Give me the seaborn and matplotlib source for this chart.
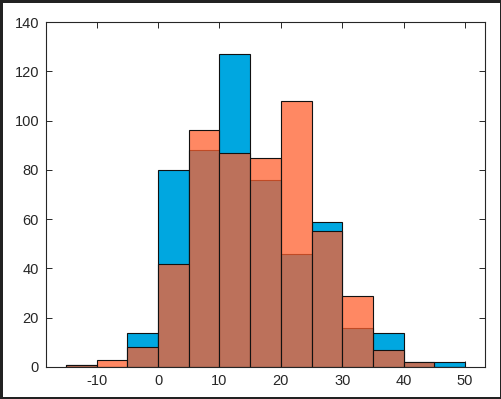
import numpy as np
import pandas as pd
import matplotlib
matplotlib.use("Agg")
import matplotlib.pyplot as plt
import seaborn as sns

# bin edges and counts per bin (width 5, from -15 to 50)
bin_edges = [-15, -10, -5, 0, 5, 10, 15, 20, 25, 30, 35, 40, 45, 50]
counts_a = [1, 0, 14, 80, 88, 127, 76, 46, 59, 16, 14, 2, 2]
counts_b = [1, 3, 8, 42, 96, 87, 85, 108, 55, 29, 7, 2, 0]
x_ticks = [-10, 0, 10, 20, 30, 40, 50]
y_ticks = [0, 20, 40, 60, 80, 100, 120, 140]

centers = [(bin_edges[i] + bin_edges[i + 1]) / 2 for i in range(len(bin_edges) - 1)]
df = pd.DataFrame({"x": centers, "a": counts_a, "b": counts_b})

sns.set_style("white")
plt.rcParams["font.family"] = ["Liberation Sans", "DejaVu Sans"]

fig = plt.figure(figsize=(5.02, 3.99), dpi=100, edgecolor="#222222", linewidth=2.5)
ax = fig.add_axes([46 / 502, 1 - 367 / 399, (485 - 46) / 502, (367 - 22) / 399])

sns.histplot(data=df, x="x", weights="a", bins=bin_edges, ax=ax,
             color="#00A7E0", alpha=1.0, edgecolor="#111111", linewidth=0.8)
sns.histplot(data=df, x="x", weights="b", bins=bin_edges, ax=ax,
             color="#FF5F2D", alpha=0.74, edgecolor="#111111", linewidth=0.8)

ax.set_xlim(-18.26, 53.26)
ax.set_ylim(0, 140)
ax.set_xticks(x_ticks)
ax.set_yticks(y_ticks)
ax.set_xticklabels([str(t) for t in x_ticks])
ax.set_yticklabels([str(t) for t in y_ticks])
ax.set_xlabel("")
ax.set_ylabel("")
for s in ax.spines.values():
    s.set_visible(True)
    s.set_color("#262626")
    s.set_linewidth(0.8)
ax.tick_params(direction="in", length=4, width=0.7, top=True, right=True,
               bottom=True, left=True, labelsize=10.5, colors="#262626",
               labelcolor="#262626", pad=5)

fig.savefig("out.png", dpi=100)
